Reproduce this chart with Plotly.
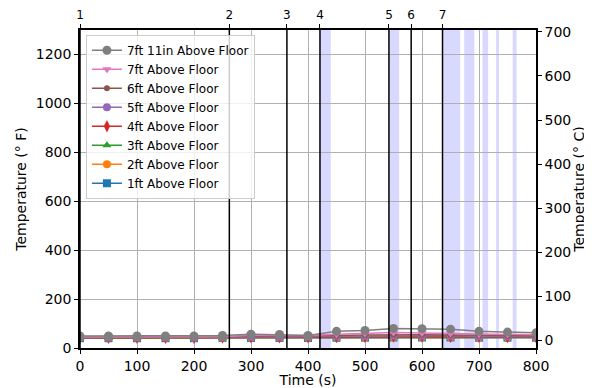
import plotly.graph_objects as go

# ---- data ----
time_s = [0, 50, 100, 150, 200, 250, 300, 350, 400, 450, 500, 550, 600, 650, 700, 750, 800]

t_7ft11in = [49, 49, 49, 49, 49, 51, 56, 55, 51, 68, 72, 80, 79, 77, 68, 65, 62]
t_7ft     = [45, 45, 45, 45, 45, 46, 52, 52, 51, 56, 59, 63, 61, 59, 56, 55, 54]
t_6ft     = [44, 44, 44, 44, 44, 45, 49, 49, 48, 51, 53, 55, 54, 53, 51, 50, 50]
t_5ft     = [43, 43, 43, 43, 43, 44, 46, 46, 46, 48, 49, 51, 50, 50, 48, 48, 47]
t_4ft     = [42, 42, 42, 42, 42, 43, 44, 44, 44, 45, 46, 47, 47, 46, 46, 45, 45]
t_3ft     = [41, 41, 41, 41, 41, 42, 43, 43, 43, 44, 44, 45, 45, 45, 44, 44, 44]
t_2ft     = [41, 41, 41, 41, 41, 41, 42, 42, 42, 43, 43, 44, 44, 44, 43, 43, 43]
t_1ft     = [40, 40, 40, 40, 40, 41, 41, 41, 41, 42, 42, 43, 43, 43, 42, 42, 42]

series_names = ["1ft Above Floor", "2ft Above Floor", "3ft Above Floor", "4ft Above Floor",
                "5ft Above Floor", "6ft Above Floor", "7ft Above Floor", "7ft 11in Above Floor"]
series_vals = [t_1ft, t_2ft, t_3ft, t_4ft, t_5ft, t_6ft, t_7ft, t_7ft11in]
series_colors = ["#1f77b4", "#ff7f0e", "#2ca02c", "#d62728", "#9467bd", "#8c564b", "#e377c2", "#7f7f7f"]
series_symbols = ["square", "circle", "triangle-up", "diamond-tall", "circle", "circle", "triangle-down", "circle"]
series_msize = [8, 8, 8, 9, 8, 6, 8, 9]

event_times = [0, 262, 363, 421, 542, 581, 636]
event_labels = ["1", "2", "3", "4", "5", "6", "7"]

span_starts = [421, 542, 637, 674, 706, 730, 759]
span_ends   = [440, 560, 667, 692, 716, 735, 766]

x_ticks = [0, 100, 200, 300, 400, 500, 600, 700, 800]
yF_ticks = [0, 200, 400, 600, 800, 1000, 1200]
yC_ticks = [0, 100, 200, 300, 400, 500, 600, 700]

yF_range = [0, 1300]
yC_range = [(yF_range[0] - 32) / 1.8, (yF_range[1] - 32) / 1.8]

FONT = "DejaVu Sans"

fig = go.Figure()

for name, vals, col, sym, ms in zip(series_names, series_vals, series_colors, series_symbols, series_msize):
    fig.add_trace(go.Scatter(
        x=time_s, y=vals, name=name, mode="lines+markers",
        line=dict(color=col, width=1.5),
        marker=dict(symbol=sym, size=ms, color=col),
    ))

# dummy traces to activate secondary axes
fig.add_trace(go.Scatter(x=[None], y=[None], xaxis="x2", showlegend=False, hoverinfo="skip"))
fig.add_trace(go.Scatter(x=[None], y=[None], yaxis="y2", showlegend=False, hoverinfo="skip"))

shapes = []
for s, e in zip(span_starts, span_ends):
    shapes.append(dict(type="rect", xref="x", yref="paper", x0=s, x1=e, y0=0, y1=1,
                       fillcolor="rgba(0,0,255,0.15)", line=dict(width=0), layer="below"))
for t in event_times:
    shapes.append(dict(type="line", xref="x", yref="paper", x0=t, x1=t, y0=0, y1=1,
                       line=dict(color="black", width=1.5), layer="above"))

# page body has an 8px margin, so the figure is sized/offset to compensate
fig.update_layout(
    width=584, height=380,
    margin=dict(l=72, r=56, t=22, b=40, autoexpand=False),
    paper_bgcolor="white", plot_bgcolor="white",
    font=dict(family=FONT, size=14, color="black"),
    shapes=shapes,
    showlegend=True,
    legend=dict(
        x=0.013, y=0.985, xanchor="left", yanchor="top",
        traceorder="reversed",
        bgcolor="rgba(255,255,255,0.8)", bordercolor="#cccccc", borderwidth=1,
        font=dict(family=FONT, size=12),
        tracegroupgap=0, itemwidth=30,
    ),
    xaxis=dict(
        range=[0, 800], tickvals=x_ticks, ticks="outside", ticklen=4, tickcolor="black",
        showline=True, linecolor="black", linewidth=1.5, automargin=False,
        showgrid=True, gridcolor="#b0b0b0", gridwidth=1, zeroline=False,
        title=dict(text="Time (s)", standoff=0, font=dict(size=14)),
        tickfont=dict(size=14),
    ),
    xaxis2=dict(
        range=[0, 800], overlaying="x", side="top", anchor="y",
        tickvals=event_times, ticktext=event_labels, automargin=False,
        ticks="outside", ticklen=4, tickcolor="black",
        showline=True, linecolor="black", linewidth=1.5,
        showgrid=False, zeroline=False, tickfont=dict(size=12),
    ),
    yaxis=dict(
        range=yF_range, tickvals=yF_ticks, ticks="outside", ticklen=4, tickcolor="black",
        showline=True, linecolor="black", linewidth=1.5, automargin=False,
        showgrid=True, gridcolor="#b0b0b0", gridwidth=1, zeroline=False,
        title=dict(text="Temperature (° F)", standoff=6, font=dict(size=14)),
        tickfont=dict(size=14),
    ),
    yaxis2=dict(
        range=yC_range, tickvals=yC_ticks, overlaying="y", side="right", anchor="x",
        ticks="outside", ticklen=4, tickcolor="black", automargin=False,
        showline=True, linecolor="black", linewidth=1.5,
        showgrid=False, zeroline=False,
        title=dict(text="Temperature (° C)", standoff=0, font=dict(size=14)),
        tickfont=dict(size=14),
    ),
)

fig.write_html("out.html")
